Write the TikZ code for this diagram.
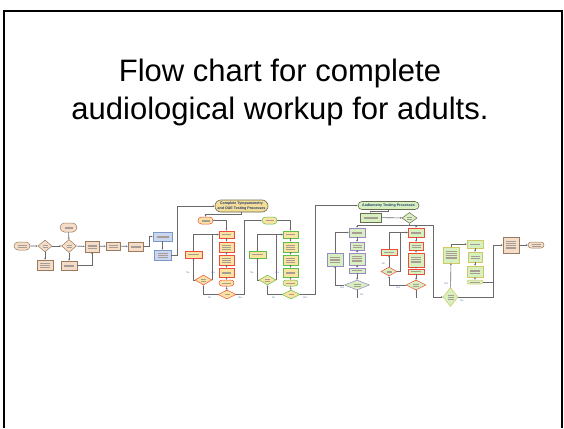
\documentclass[tikz,border=0pt]{standalone}
\usepackage{fontspec}
\setmainfont{Liberation Sans}
\usetikzlibrary{shapes.geometric,shapes.misc,arrows.meta}

\definecolor{tanfill}{HTML}{F3DDC8}
\definecolor{tanline}{HTML}{9C7A5C}
\definecolor{bluefill}{HTML}{C9D8F0}
\definecolor{blueline}{HTML}{7D97C8}
\definecolor{yelfill}{HTML}{FBE3A2}
\definecolor{redline}{HTML}{EE4B3B}
\definecolor{grnfill}{HTML}{D6F0BF}
\definecolor{grnline}{HTML}{5CBF4A}
\definecolor{purline}{HTML}{9B86C9}
\definecolor{oliveline}{HTML}{D2C860}
\definecolor{headfill}{HTML}{F3DD98}
\definecolor{headline}{HTML}{6B6B50}
\definecolor{navytext}{HTML}{1F3A6E}
\definecolor{wirec}{HTML}{6A6A6A}
\definecolor{inkgray}{HTML}{A89C94}
\definecolor{lblblue}{HTML}{4A6FB0}

% a few thin strokes standing for the small print inside a box
\newcommand\scrib[2]{\vbox{\color{inkgray}\foreach \k in {1,...,#2}{\hrule width #1pt height .3pt\vskip 1.4pt}\vskip-1.4pt}}

\begin{document}
\begin{tikzpicture}[x=1pt,y=-1pt,
  sz/.style 2 args={minimum width=#1pt,minimum height=#2pt},
  base/.style={inner sep=0pt,line width=0.5pt},
  tanbox/.style={base,rectangle,draw=tanline,fill=tanfill},
  tanov/.style={base,rounded rectangle,draw=tanline,fill=tanfill},
  tandia/.style={base,diamond,draw=tanline,fill=tanfill},
  bluebox/.style={base,rectangle,draw=blueline,fill=bluefill},
  redbox/.style={base,rectangle,draw=redline,fill=yelfill},
  redov/.style={base,rounded rectangle,draw=redline,fill=yelfill},
  reddia/.style={base,diamond,draw=redline,fill=yelfill},
  grnbox/.style={base,rectangle,draw=grnline,fill=yelfill},
  grnov/.style={base,rounded rectangle,draw=grnline,fill=yelfill},
  grndia/.style={base,diamond,draw=grnline,fill=yelfill},
  purbox/.style={base,rectangle,draw=purline,fill=grnfill},
  purdia/.style={base,diamond,draw=purline,fill=grnfill},
  rgbox/.style={base,rectangle,draw=redline,fill=grnfill},
  rgdia/.style={base,diamond,draw=redline,fill=grnfill},
  olbox/.style={base,rectangle,draw=oliveline,fill=grnfill},
  olov/.style={base,rounded rectangle,draw=oliveline,fill=grnfill},
  oldia/.style={base,diamond,draw=oliveline,fill=grnfill},
  darkbox/.style={base,rectangle,draw=headline,fill=grnfill},
  darkdia/.style={base,diamond,draw=headline,fill=grnfill},
  headov/.style={base,rounded rectangle,draw=headline,line width=0.6pt,
    font=\fontsize{3.6}{4.2}\selectfont\bfseries,text=navytext,align=center},
  wire/.style={draw=wirec,line width=0.6pt},
  conn/.style={wire,-{Stealth[length=1.8pt,width=1.6pt]}},
  lbl/.style={inner sep=0pt,font=\fontsize{2.4}{2.4}\selectfont,text=lblblue}]

\useasboundingbox (0,0) rectangle (564,428);
\fill[white] (0,0) rectangle (564,428);

% slide frame, open at the bottom
\draw[line width=2.3pt] (3.8,428) -- (3.8,11.3) -- (561.8,11.3) -- (561.8,428);

% heading
\node[font=\fontsize{31}{37}\selectfont,anchor=base,inner sep=0pt] (head1) at (280,81) {Flow chart for complete};
\node[font=\fontsize{31}{37}\selectfont,anchor=base,inner sep=0pt] (head2) at (280,119) {audiological workup for adults.};

% ---------- intake pipeline ----------
\node[tanov,sz={16}{8}] (s0) at (22,246) {\scrib{9}{2}};
\node[tandia,sz={14}{12}] (d1) at (45,246) {\scrib{5}{2}};
\node[tanbox,sz={16}{10}] (b1) at (45,265) {\scrib{10}{3}};
\node[tandia,sz={15}{13}] (d2) at (69,246) {\scrib{5}{2}};
\node[tanov,sz={17}{9}] (o1) at (68.5,227.5) {\scrib{8}{2}};
\node[tanbox,sz={16}{9}] (b2) at (69,265.5) {\scrib{10}{2}};
\node[tanbox,sz={14}{11}] (b3) at (92,246.5) {\scrib{9}{3}};
\node[tanbox,sz={14}{8}] (b4) at (113,246) {\scrib{9}{2}};
\node[tanbox,sz={15}{9}] (b5) at (135.5,246.5) {\scrib{10}{2}};
\node[bluebox,sz={19}{9}] (b6) at (162.5,236.5) {\scrib{12}{2}};
\node[bluebox,sz={17}{10}] (b7) at (162.5,255) {\scrib{10}{3}};

\draw[conn] (s0) -- (d1);
\draw[conn] (d1) -- (b1);
\draw[conn] (d1) -- (d2);
\draw[conn] (o1) -- (d2);
\draw[conn] (d2) -- (b2);
\draw[conn] (d2) -- (b3);
\draw[conn] (b2.east) -| (b3.south);
\draw[conn] (b3) -- (b4);
\draw[conn] (b4) -- (b5);
\draw[conn] (b5.east) -- ++(6,0) |- (b6.west);
\draw[conn] (b6) -- (b7);

% ---------- tympanometry / OAE ----------
\node[headov,fill=headfill,sz={53}{12}] (T1) at (241.5,206) {Complete Tympanometry\\and OAE Testing Processes};
\draw[conn] (b7.east) -- ++(6,0) |- (T1.west);

% tympanometry column
\node[redov,sz={15}{7}] (R0) at (205.5,220.5) {\scrib{8}{2}};
\node[redbox,sz={15}{7}] (Ra) at (226.5,234.5) {\scrib{9}{1}};
\node[redbox,line width=0.9pt,sz={15}{10}] (Rb) at (226.5,247) {\scrib{9}{3}};
\node[redbox,sz={15}{10}] (Rc) at (226.5,260) {\scrib{9}{3}};
\node[redbox,sz={15}{9}] (Rd) at (226.5,272.5) {\scrib{9}{2}};
\node[redov,sz={15}{6}] (Re) at (226.5,283) {\scrib{9}{1}};
\node[reddia,sz={18}{9}] (Rf) at (227,294.5) {\scrib{5}{1}};
\node[redbox,sz={17}{7}] (RL) at (193.5,254.5) {\scrib{11}{1}};
\node[reddia,sz={17}{10}] (RD) at (203.5,280) {\scrib{5}{2}};

\draw[conn] (T1.south) -- ++(0,1.5) -| (R0.north);
\draw[conn] (R0.east) -| (Ra.north);
\draw[conn] (Ra) -- (Rb);
\draw[conn] (Rb) -- (Rc);
\draw[conn] (Rc) -- (Rd);
\draw[conn] (Rd) -- (Re);
\draw[conn] (Re) -- (Rf);
\draw[conn] (Rf.west) -| (RD.south);
\draw[conn] (RD.west) -| (RL.south);
\draw[conn] (RL.north) |- (Ra.west);
\draw[conn] (RD.east) |- (Ra.west);
\node[lbl] (rl1) at (188,273) {No};
\node[lbl] (rl2) at (213,273) {Yes};
\node[lbl] (rl3) at (209.5,297.5) {No};
\node[lbl] (rl4) at (240,297.5) {Yes};

% OAE column
\node[grnov,sz={15}{7}] (G0) at (269.5,220.5) {\scrib{8}{1}};
\node[grnbox,sz={15}{7}] (Ga) at (290.5,234.5) {\scrib{9}{1}};
\node[grnbox,line width=0.9pt,sz={15}{10}] (Gb) at (290.5,247) {\scrib{9}{3}};
\node[grnbox,sz={15}{10}] (Gc) at (290.5,260) {\scrib{9}{3}};
\node[grnbox,sz={15}{9}] (Gd) at (290.5,272.5) {\scrib{9}{2}};
\node[grnov,sz={15}{6}] (Ge) at (290.5,283) {\scrib{9}{1}};
\node[grndia,sz={18}{9}] (Gf) at (291,294.5) {\scrib{5}{1}};
\node[grnbox,sz={17}{7}] (GL) at (257.5,254.5) {\scrib{11}{1}};
\node[grndia,sz={17}{10}] (GD) at (267.5,280) {\scrib{5}{2}};

\draw[conn] (Rf.east) -- ++(8,0) |- (G0.west);
\draw[conn] (G0.east) -| (Ga.north);
\draw[conn] (Ga) -- (Gb);
\draw[conn] (Gb) -- (Gc);
\draw[conn] (Gc) -- (Gd);
\draw[conn] (Gd) -- (Ge);
\draw[conn] (Ge) -- (Gf);
\draw[conn] (Gf.west) -| (GD.south);
\draw[conn] (GD.west) -| (GL.south);
\draw[conn] (GL.north) |- (Ga.west);
\draw[conn] (GD.east) |- (Ga.west);
\node[lbl] (gl1) at (252,273) {No};
\node[lbl] (gl2) at (277,273) {Yes};
\node[lbl] (gl3) at (273.5,297.5) {No};
\node[lbl] (gl4) at (305,297.5) {Yes};

% ---------- audiometry ----------
\node[headov,fill=grnfill,sz={61}{8}] (T2) at (388.5,205.5) {Audiometry Testing Processes};
\draw[conn] (Gf.east) -- ++(15,0) |- (T2.west);

\node[darkbox,sz={21}{9}] (A0) at (370.5,217.5) {\scrib{14}{2}};
\node[darkdia,sz={15}{11}] (AD) at (409.5,218) {\scrib{5}{2}};
\coordinate (aj) at (409.5,225);
\draw[conn] (T2.south) -- ++(0,1.5) -| (A0.north);
\draw[conn] (A0) -- (AD);
\draw[wire] (AD.south) -- (aj);

% left audiometry column
\node[purbox,sz={16}{9}] (Pa) at (357,232.5) {\scrib{10}{2}};
\node[purbox,sz={14}{8}] (Pb) at (357,246) {\scrib{9}{2}};
\node[purbox,sz={16}{12}] (Pc) at (357,259) {\scrib{10}{4}};
\node[purbox,sz={16}{5}] (Pd) at (357,270.5) {\scrib{10}{1}};
\node[purdia,sz={25}{10}] (PD) at (357,285) {\scrib{7}{2}};
\node[purbox,sz={16}{13}] (PL) at (335,259.5) {\scrib{10}{4}};
\coordinate (pend) at (357,298);

\draw[conn] (aj) -| (Pa.north);
\draw[conn] (Pa) -- (Pb);
\draw[conn] (Pb) -- (Pc);
\draw[conn] (Pc) -- (Pd);
\draw[conn] (Pd) -- (PD);
\draw[conn] (PD.west) -| (PL.south);
\draw[conn] (PL.north) |- (Pa.west);
\draw[wire] (PD.south) -- (pend);
\node[lbl] (pl1) at (342,288) {Yes};
\node[lbl] (pl2) at (362,294.5) {No};

% right audiometry column
\node[rgbox,sz={16}{9}] (Qa) at (416,232.5) {\scrib{10}{2}};
\node[rgbox,sz={14}{8}] (Qb) at (416,246) {\scrib{9}{2}};
\node[rgbox,line width=0.9pt,sz={16}{14}] (Qc) at (416,260) {\scrib{10}{4}};
\node[rgbox,sz={16}{5}] (Qd) at (416,271.5) {\scrib{10}{1}};
\node[rgdia,sz={20}{10}] (QD) at (416,285) {\scrib{6}{2}};
\node[rgbox,sz={16}{6}] (QL) at (389,252) {\scrib{10}{1}};
\node[rgdia,sz={16}{9}] (QLD) at (389,271.5) {\scrib{5}{2}};
\coordinate (qend) at (416,298);

\draw[conn] (aj) -| (Qa.north);
\draw[conn] (Qa) -- (Qb);
\draw[conn] (Qb) -- (Qc);
\draw[conn] (Qc) -- (Qd);
\draw[conn] (Qd) -- (QD);
\draw[conn] (QD.west) -| (QLD.south);
\draw[conn] (QLD) -- (QL);
\draw[conn] (QL.north) |- (Qa.west);
\draw[conn] (QLD.east) -- ++(3,0) |- (Qa.west);
\draw[wire] (QD.south) -- (qend);
\node[lbl] (ql1) at (383.5,263.5) {No};
\node[lbl] (ql2) at (398,288) {Yes};

% ---------- closing steps ----------
\node[oldia,sz={15}{19}] (YD) at (450.5,297) {\scrib{6}{3}};
\node[olbox,sz={16}{16}] (YL) at (451,255) {\scrib{11}{5}};
\node[olbox,sz={16}{8}] (Ya) at (475,244) {\scrib{10}{1}};
\node[olbox,sz={14}{10}] (Yb) at (475,257) {\scrib{9}{2}};
\node[olbox,sz={16}{11}] (Yc) at (475,271.5) {\scrib{10}{3}};
\node[olov,sz={16}{4}] (Ye) at (475,282) {\scrib{10}{1}};
\node[tanbox,sz={16}{16}] (Z1) at (511,245) {\scrib{10}{5}};
\node[tanov,sz={16}{6}] (Z2) at (536,245) {\scrib{9}{2}};

\draw[conn] (aj) -- (433,225) -- (433,297) -- (YD.west);
\draw[conn] (YD) -- (YL);
\draw[conn] (YL.north) |- (Ya.west);
\draw[conn] (Ya) -- (Yb);
\draw[conn] (Yb) -- (Yc);
\draw[conn] (Yc) -- (Ye);
\draw[wire] (YD.east) -- (493,297) -- (493,282);
\draw[conn] (Ye.east) -- (493,282) |- (Z1.west);
\draw[conn] (Z1) -- (Z2);
\node[lbl] (yl1) at (446,284) {Yes};
\node[lbl] (yl2) at (462,301) {No};

\end{tikzpicture}
\end{document}
